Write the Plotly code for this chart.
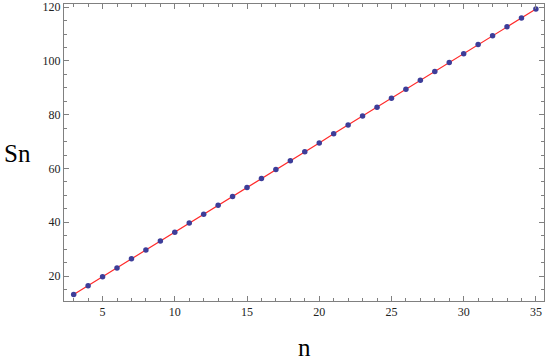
import plotly.graph_objects as go

n_values = list(range(3, 36))
sn_values = [13.1, 16.4, 19.7, 23.0, 26.4, 29.7, 33.0, 36.3, 39.7, 43.0, 46.3,
             49.6, 52.9, 56.3, 59.6, 62.9, 66.2, 69.5, 72.9, 76.2, 79.5, 82.8,
             86.1, 89.5, 92.8, 96.1, 99.4, 102.7, 106.1, 109.4, 112.7, 116.0, 119.3]
x_ticks = [5, 10, 15, 20, 25, 30, 35]
y_ticks = [20, 40, 60, 80, 100, 120]

SERIF = "Liberation Serif, Times New Roman, serif"

fig = go.Figure()
fig.add_trace(go.Scatter(x=n_values, y=sn_values, mode="lines",
                         line=dict(color="#ff2a2a", width=1.2), hoverinfo="skip"))
fig.add_trace(go.Scatter(x=n_values, y=sn_values, mode="markers",
                         marker=dict(color="#3d3d99", size=5.5)))

axis_common = dict(showline=True, linecolor="#808080", linewidth=1, mirror="allticks",
                   ticks="inside", ticklen=5, tickcolor="#808080", tickwidth=1,
                   showgrid=False, zeroline=False, automargin=False,
                   tickfont=dict(family=SERIF, size=12, color="#222"))
fig.update_xaxes(range=[2.33, 35.56], tickvals=x_ticks,
                 minor=dict(ticks="inside", dtick=1, tick0=0, ticklen=3, tickcolor="#808080"),
                 **axis_common)
fig.update_yaxes(range=[10.7, 121.2], tickvals=y_ticks,
                 minor=dict(ticks="inside", dtick=5, tick0=0, ticklen=3, tickcolor="#808080"),
                 **axis_common)

fig.add_annotation(text="Sn", xref="paper", yref="paper", x=-0.129, y=0.498,
                   showarrow=False, font=dict(family=SERIF, size=25, color="black"),
                   xanchor="left", yanchor="middle")
fig.add_annotation(text="n", xref="paper", yref="paper", x=0.502, y=-0.158,
                   showarrow=False, font=dict(family=SERIF, size=25, color="black"),
                   xanchor="center", yanchor="middle")

fig.update_layout(width=545, height=363, margin=dict(l=64, r=1, t=4, b=62),
                  font=dict(family=SERIF),
                  paper_bgcolor="white", plot_bgcolor="white", showlegend=False)
fig.write_html("out.html", config={"displayModeBar": False},
               post_script="document.body.style.margin='0';document.body.style.overflow='hidden';")
